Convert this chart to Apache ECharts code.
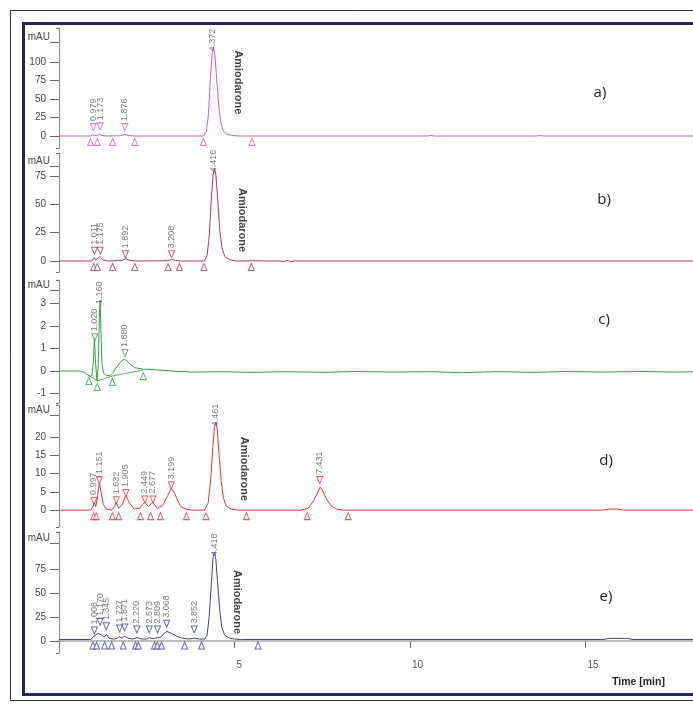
<!DOCTYPE html>
<html><head><meta charset="utf-8">
<script src="https://cdn.jsdelivr.net/npm/echarts@6/dist/echarts.min.js"></script>
<style>html,body{margin:0;padding:0;background:#fff}#c{width:693px;height:704px}</style>
</head><body><div id="c"></div>
<script>
// ---------- DATA ----------
const panelNames = ['a)', 'b)', 'c)', 'd)', 'e)'];
const xTickValues = [0, 5, 10, 15, 20];
const xLabelValues = [5, 10, 15];

const yRanges = [[-16.2, 146], [-9.7, 95.4], [-1.42, 4.04], [-4.6, 28.7], [-12.6, 114]];
const yTicksA = [0, 25, 50, 75, 100];
const yTicksB = [0, 25, 50, 75];
const yTicksC = [-1, 0, 1, 2, 3];
const yTicksD = [0, 5, 10, 15, 20];
const yTicksE = [0, 25, 50, 75];
const unitTicks = [127, 84, 3.57, 26, 102.6];

const traceA = [[0,0],[0.9,0],[0.96,1.5],[1.0,0.5],[1.08,0.3],[1.15,2.5],[1.22,0.8],[1.35,0],[1.75,0.3],[1.87,2],[1.98,0.8],[2.15,0],[4.12,0],[4.2,6],[4.26,30],[4.31,75],[4.36,110],[4.4,120],[4.44,110],[4.49,78],[4.55,42],[4.61,18],[4.68,7],[4.78,2.5],[4.92,0.8],[5.1,0],[10.5,0],[10.6,0.8],[10.7,0],[13.6,0],[13.7,0.6],[13.8,0],[20,0]];
const traceB = [[0,0],[0.93,0],[1.0,3],[1.05,1],[1.1,1.5],[1.17,4],[1.25,1],[1.4,0],[1.8,0.5],[1.89,2],[2.0,0.8],[2.2,0],[3.1,0.3],[3.2,1.5],[3.32,0.5],[3.5,0],[4.14,0],[4.22,5],[4.28,22],[4.34,55],[4.39,76],[4.43,82],[4.47,76],[4.52,55],[4.58,28],[4.64,12],[4.72,4],[4.85,1.2],[5.05,0],[5.6,0.3],[5.9,0],[6.3,0],[6.4,-0.8],[6.5,0.5],[6.6,-0.5],[6.7,0],[20,0]];
const traceC = [[0,0],[0.55,0],[0.7,-0.05],[0.8,-0.15],[0.88,-0.25],[0.94,-0.2],[0.98,0.4],[1.01,1.5],[1.04,0.4],[1.08,-0.45],[1.12,0.3],[1.15,2.4],[1.17,3.15],[1.19,2.1],[1.22,0.4],[1.27,-0.1],[1.35,-0.2],[1.45,-0.2],[1.55,-0.05],[1.7,0.3],[1.82,0.5],[1.9,0.5],[2.0,0.35],[2.15,0.15],[2.4,0.08],[2.8,0.05],[3.2,0],[3.8,-0.05],[4.5,-0.03],[5.5,-0.06],[6.5,-0.03],[7.5,-0.06],[8.5,-0.02],[9.5,-0.05],[10.5,-0.03],[11.5,-0.07],[12.5,-0.03],[13.5,-0.06],[14.5,-0.02],[15.5,-0.05],[16.5,-0.02],[17.5,-0.05],[18.5,-0.02],[20,-0.04]];
const traceD = [[0,0],[0.9,0],[0.97,1],[1.0,2.2],[1.05,1],[1.1,4],[1.15,7.5],[1.2,5],[1.26,1.5],[1.35,0.3],[1.5,0],[1.58,1],[1.63,2],[1.7,0.5],[1.8,1.5],[1.9,4],[2.0,2],[2.15,0.3],[2.3,0.5],[2.44,2.2],[2.55,1],[2.67,2.2],[2.8,0.5],[2.95,1.2],[3.1,4],[3.2,6],[3.3,4.5],[3.45,1.2],[3.6,0.3],[3.8,0],[4.15,0],[4.25,2],[4.32,8],[4.38,17],[4.43,23],[4.47,24],[4.51,22],[4.56,15],[4.62,8],[4.68,3.5],[4.76,1.2],[4.9,0.3],[5.1,0],[6.9,0],[7.1,0.5],[7.25,2.5],[7.38,5],[7.44,6.3],[7.5,5.5],[7.62,3],[7.75,1.2],[7.9,0.3],[8.1,0],[15.5,0],[15.7,0.3],[15.9,0.3],[16.1,0],[20,0]];
const traceE = [[0,1.5],[0.9,1.5],[1.0,5],[1.05,3],[1.12,8],[1.17,10],[1.22,6],[1.29,4],[1.35,7],[1.42,3],[1.55,2],[1.65,2.5],[1.72,4.5],[1.8,3],[1.87,5],[1.95,3],[2.1,2],[2.22,3.5],[2.35,2],[2.5,2],[2.57,3.5],[2.68,2.3],[2.81,3.5],[2.9,4],[3.0,8],[3.07,10],[3.2,8],[3.35,5],[3.5,3],[3.7,2],[3.85,3],[4.0,2],[4.15,2],[4.22,6],[4.28,26],[4.34,60],[4.39,88],[4.43,93],[4.47,85],[4.52,60],[4.58,32],[4.64,14],[4.72,6],[4.85,3],[5.0,2],[5.2,1.5],[15.5,1.5],[15.7,2.7],[16.2,2.7],[16.35,1.5],[20,1.5]];
const traces = [traceA, traceB, traceC, traceD, traceE];

// labelled peak apex markers (▽): retention times and marker heights
const peakTimesA = [0.979, 1.173, 1.876];
const peakMarkA = [12, 13, 12];
const peakTimesB = [1.011, 1.175, 1.892, 3.208];
const peakMarkB = [9, 9, 6, 6];
const peakTimesC = [1.020, 1.880];
const peakMarkC = [1.5, 0.8];
const peakTimesD = [0.997, 1.151, 1.632, 1.905, 2.449, 2.677, 3.199, 7.431];
const peakMarkD = [2.5, 8.2, 2.7, 4.7, 2.9, 2.9, 6.8, 8.2];
const peakTimesE = [1.008, 1.170, 1.345, 1.727, 1.871, 2.220, 2.573, 2.809, 3.068, 3.852];
const peakMarkE = [11, 20, 15.4, 13, 14, 12, 12, 12, 18, 12];
const peakTimes = [peakTimesA, peakTimesB, peakTimesC, peakTimesD, peakTimesE];
const peakMarks = [peakMarkA, peakMarkB, peakMarkC, peakMarkD, peakMarkE];

// main (tallest) peak label: time and apex
const mainPeakTimes = [4.372, 4.416, 1.160, 4.461, 4.418];
const mainPeakApex = [120, 82, 3.15, 24, 93];

// integration start/end markers (△)
const baseTimesA = [0.90, 1.09, 1.53, 2.16, 4.11, 5.50];
const baseTimesB = [0.99, 1.09, 1.53, 2.16, 3.11, 3.43, 4.13, 5.48];
const baseTimesC = [0.85, 1.09, 1.52, 2.40];
const baseValsC = [-0.18, -0.44, -0.22, 0.04];
const baseTimesD = [0.99, 1.06, 1.52, 1.70, 2.32, 2.61, 2.89, 3.63, 4.19, 5.34, 7.07, 8.24];
const baseTimesE = [0.97, 1.07, 1.30, 1.50, 1.83, 2.18, 2.26, 2.72, 2.80, 2.92, 3.58, 4.06, 5.67];
const baselineLevels = [0, 0, 0, 0, 1.5];

// "Amiodarone" annotation anchor (time, value) per panel (none in c)
const amioTimes = [5.09, 5.22, null, 5.26, 5.08];
const amioVals = [116, 64.5, null, 20, 74.3];

// ---------- STYLE ----------
const colors = ['#c862c4', '#ad3c56', '#33a044', '#e0383c', '#404096'];
const grids = [
  {top: 28, height: 120}, {top: 153, height: 119}, {top: 280, height: 123},
  {top: 405, height: 122}, {top: 532, height: 121}
];
const yTicks = [yTicksA, yTicksB, yTicksC, yTicksD, yTicksE];
const FONT = '"Liberation Sans", Arial, sans-serif';
const LABEL_GRAY = '#5a5a5a';

const option = {
  animation: false,
  backgroundColor: '#fff',
  grid: grids.map(g => ({left: 59, width: 702, top: g.top, height: g.height, containLabel: false, outerBoundsMode: 'none'})),
  xAxis: grids.map((g, i) => {
    const last = i === 4;
    return {
      type: 'value', gridIndex: i, min: 0, max: 20, show: last, offset: last ? 2 : 0,
      axisLine: {show: true, lineStyle: {color: '#a8a8a8', width: 1.5}},
      axisTick: {show: true, length: 7, customValues: xTickValues, lineStyle: {color: '#777'}},
      axisLabel: {show: true, customValues: xLabelValues, align: 'left', padding: [0, 0, 0, 2], margin: 5,
        fontSize: 10, color: '#555', fontFamily: FONT},
      splitLine: {show: false}
    };
  }),
  yAxis: [],
  series: [],
  graphic: []
};

grids.forEach((g, i) => {
  const [mn, mx] = yRanges[i];
  const unit = unitTicks[i];
  option.yAxis.push({
    type: 'value', gridIndex: i, min: mn, max: mx, position: 'left',
    axisLine: {show: true, lineStyle: {color: '#8a8a8a', width: 1}},
    axisTick: {show: true, length: 9, customValues: yTicks[i].concat([unit]), lineStyle: {color: '#666'}},
    axisLabel: {show: true, customValues: yTicks[i].concat([unit]), margin: 9, fontSize: 10, color: '#444',
      fontFamily: FONT, hideOverlap: false,
      formatter: v => (Math.abs(v - unit) < 1e-9 ? '{u|mAU}' : '{n|' + v + '}'),
      rich: {
        u: {fontSize: 10, color: '#444', fontFamily: FONT, padding: [0, 0, 10, 0]},
        n: {fontSize: 10, color: '#444', fontFamily: FONT, padding: [0, 4, 0, 0]}
      }},
    splitLine: {show: false}
  });
  option.yAxis.push({
    type: 'value', gridIndex: i, min: mn, max: mx, position: 'left',
    axisLine: {show: false},
    axisTick: {show: true, length: 3, customValues: [mn, mx], lineStyle: {color: '#666'}},
    axisLabel: {show: false}, splitLine: {show: false}
  });
  const yi = 2 * i;
  const c = colors[i];
  option.series.push({
    type: 'line', xAxisIndex: i, yAxisIndex: yi, data: traces[i], symbol: 'none',
    lineStyle: {color: c, width: 1}, z: 3
  });
  if (i === 2) {
    option.series.push({
      type: 'line', xAxisIndex: i, yAxisIndex: yi,
      data: baseTimesC.map((t, k) => [t, baseValsC[k]]), symbol: 'none',
      lineStyle: {color: c, width: 0.8}, z: 2
    });
  }
  // integration markers △
  const bt = [baseTimesA, baseTimesB, baseTimesC, baseTimesD, baseTimesE][i];
  option.series.push({
    type: 'scatter', xAxisIndex: i, yAxisIndex: yi,
    data: bt.map((t, k) => [t, i === 2 ? baseValsC[k] : baselineLevels[i]]),
    symbol: 'triangle', symbolSize: [6, 7], symbolOffset: [0, 6],
    itemStyle: {color: 'rgba(255,255,255,0.9)', borderColor: c, borderWidth: 1}, z: 4
  });
  // apex markers ▽ with labels
  option.series.push({
    type: 'scatter', xAxisIndex: i, yAxisIndex: yi,
    data: peakTimes[i].map((t, k) => [t, peakMarks[i][k]]),
    symbol: 'triangle', symbolRotate: 180, symbolSize: [6, 7],
    itemStyle: {color: 'rgba(255,255,255,0.9)', borderColor: c, borderWidth: 1},
    label: {show: true, position: 'top', distance: 2, rotate: 90, align: 'left', verticalAlign: 'middle',
      fontSize: 9, color: LABEL_GRAY, fontFamily: FONT, formatter: p => p.value[0].toFixed(3)},
    z: 4
  });
  // main peak label
  option.series.push({
    type: 'scatter', xAxisIndex: i, yAxisIndex: yi,
    data: [[mainPeakTimes[i], mainPeakApex[i]]], symbolSize: 0,
    label: {show: true, position: 'top', distance: -4, rotate: 90, align: 'left', verticalAlign: 'middle',
      fontSize: 9, color: LABEL_GRAY, fontFamily: FONT, formatter: p => p.value[0].toFixed(3)},
    z: 5
  });
  if (amioTimes[i] !== null) {
    option.series.push({
      type: 'scatter', xAxisIndex: i, yAxisIndex: yi,
      data: [[amioTimes[i], amioVals[i]]], symbolSize: 0,
      label: {show: true, position: 'inside', rotate: -90, align: 'left', verticalAlign: 'middle',
        fontSize: 11, fontWeight: 'bold', color: '#111', fontFamily: FONT, formatter: 'Amiodarone'},
      z: 5
    });
  }
});

const letterPos = [[600, 93], [604, 200], [604, 320], [606, 461], [606, 597]];
option.graphic = [
  {type: 'rect', silent: true, z: 0, shape: {x: 10.5, y: 10.5, width: 800, height: 690},
    style: {fill: 'none', stroke: '#333', lineWidth: 1}},
  {type: 'rect', silent: true, z: 0, shape: {x: 23.5, y: 23.5, width: 800, height: 671},
    style: {fill: 'none', stroke: '#24245c', lineWidth: 3}},
  {type: 'text', silent: true, x: 612, y: 682,
    style: {text: 'Time [min]', font: 'bold 10.5px ' + FONT, fill: '#222', verticalAlign: 'middle', align: 'left'}}
].concat(panelNames.map((n, i) => ({
  type: 'text', silent: true, x: letterPos[i][0], y: letterPos[i][1],
  style: {text: n, font: '15px "Open Sans", sans-serif', fill: '#222', align: 'center', verticalAlign: 'middle'}
})));

const chart = echarts.init(document.getElementById('c'), null, {renderer: 'canvas'});
chart.setOption(option);
</script>
</body></html>
